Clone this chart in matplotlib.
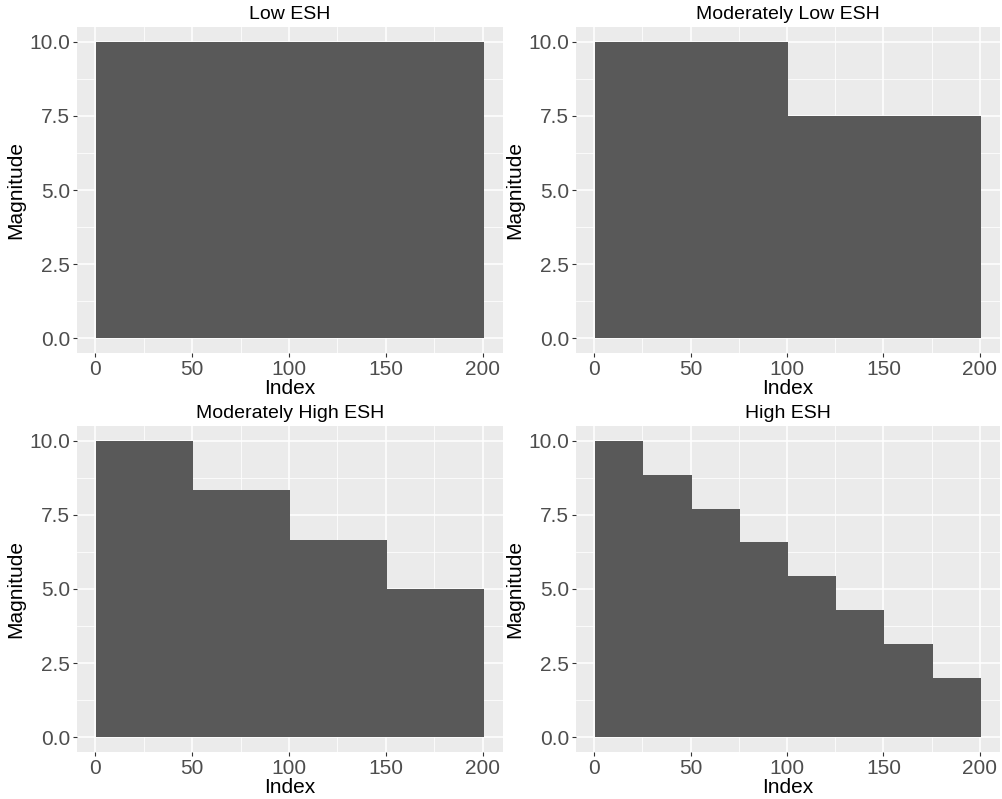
import numpy as np
import matplotlib
matplotlib.use('Agg')
import matplotlib.pyplot as plt

titles = ['Low ESH', 'Moderately Low ESH', 'Moderately High ESH', 'High ESH']
# step heights, each step covers an equal share of the 200 indices
levels = [
    [10.0],
    [10.0, 7.5],
    [10.0, 8.33, 6.67, 5.0],
    [10.0, 8.86, 7.71, 6.57, 5.43, 4.29, 3.14, 2.0],
]
n_points = 200
index = np.arange(1, n_points + 1)

plt.rcParams['font.family'] = ['Liberation Sans', 'DejaVu Sans']

fig = plt.figure(figsize=(10.03, 7.99), dpi=100)
W, H = 1003, 799
# panel boxes in pixels: left, top, right, bottom
boxes = [(77, 27, 503, 353), (576, 27, 1000, 353),
         (77, 426, 503, 752), (576, 426, 1000, 752)]

for box, title, lv in zip(boxes, titles, levels):
    l, t, r, b = box
    ax = fig.add_axes([l / W, 1 - b / H, (r - l) / W, (b - t) / H])
    vals = np.repeat(lv, n_points // len(lv))
    ax.set_facecolor('#EBEBEB')
    ax.set_axisbelow(True)
    ax.bar(index, vals, width=1.0, color='#595959', linewidth=0)
    ax.set_xlim(-9.5, 210.5)
    ax.set_ylim(-0.5, 10.5)
    ax.set_xticks([0, 50, 100, 150, 200])
    ax.set_yticks([0, 2.5, 5.0, 7.5, 10.0])
    ax.set_yticklabels(['0.0', '2.5', '5.0', '7.5', '10.0'])
    ax.set_xticks([25, 75, 125, 175], minor=True)
    ax.set_yticks([1.25, 3.75, 6.25, 8.75], minor=True)
    ax.grid(which='major', color='white', linewidth=1.1)
    ax.grid(which='minor', color='white', linewidth=0.55)
    ax.tick_params(which='major', length=3, width=0.8, color='#333333',
                   labelsize=15, labelcolor='#4D4D4D', pad=2)
    ax.tick_params(which='minor', length=0)
    for s in ax.spines.values():
        s.set_visible(False)
    ax.set_xlabel('Index', fontsize=15, labelpad=0)
    ax.set_ylabel('Magnitude', fontsize=15, labelpad=3)
    ax.set_title(title, fontsize=14, pad=6)

fig.savefig('out.png', dpi=100)
